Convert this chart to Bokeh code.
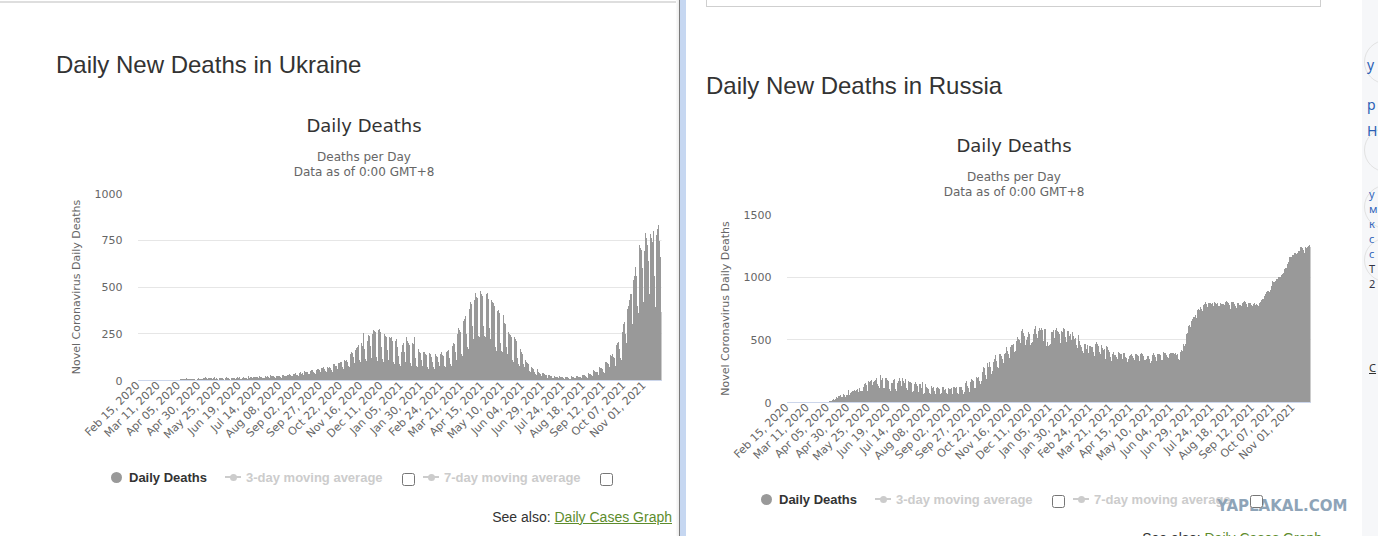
import numpy as np
import pandas as pd
from bokeh.plotting import figure
from bokeh.models import Range1d, FixedTicker, Div, ColumnDataSource
from bokeh.layouts import row, column
from bokeh.embed import file_html
from bokeh.resources import INLINE

# ---------------- data ----------------
START_DATE = "2020-02-15"

TICK_LABELS = ["Feb 15, 2020", "Mar 11, 2020", "Apr 05, 2020", "Apr 30, 2020", "May 25, 2020",
               "Jun 19, 2020", "Jul 14, 2020", "Aug 08, 2020", "Sep 02, 2020", "Sep 27, 2020",
               "Oct 22, 2020", "Nov 16, 2020", "Dec 11, 2020", "Jan 05, 2021", "Jan 30, 2021",
               "Feb 24, 2021", "Mar 21, 2021", "Apr 15, 2021", "May 10, 2021", "Jun 04, 2021",
               "Jun 29, 2021", "Jul 24, 2021", "Aug 18, 2021", "Sep 12, 2021", "Oct 07, 2021",
               "Nov 01, 2021"]

UKRAINE_YTICKS = [0, 250, 500, 750, 1000]
RUSSIA_YTICKS = [0, 500, 1000, 1500]

# daily deaths, one row per week (Sat..Fri), starting Sat Feb 15 2020
UKRAINE_DEATHS = [
    0, 0, 0, 0, 0, 0, 0,
    0, 0, 0, 0, 0, 0, 0,
    0, 0, 0, 0, 0, 0, 0,
    0, 0, 0, 0, 0, 0, 1,
    0, 1, 0, 1, 0, 0, 0,
    1, 0, 1, 0, 1, 2, 1,
    5, 0, 3, 4, 2, 3, 4,
    5, 3, 4, 7, 6, 7, 6,
    8, 9, 6, 8, 12, 9, 8,
    6, 9, 7, 10, 9, 5, 8,
    10, 5, 5, 9, 10, 13, 9,
    9, 14, 10, 10, 12, 14, 18,
    12, 15, 8, 14, 13, 16, 12,
    11, 6, 13, 16, 17, 10, 11,
    9, 7, 5, 16, 11, 13, 12,
    8, 10, 5, 11, 17, 14, 12,
    12, 7, 4, 18, 14, 13, 15,
    12, 10, 7, 13, 18, 15, 19,
    14, 10, 8, 16, 17, 18, 14,
    13, 12, 9, 20, 22, 16, 18,
    21, 15, 10, 17, 21, 18, 20,
    16, 18, 11, 24, 19, 21, 17,
    15, 16, 12, 22, 25, 20, 24,
    18, 16, 11, 28, 25, 23, 22,
    19, 20, 14, 26, 24, 22, 25,
    22, 18, 15, 30, 27, 28, 26,
    25, 22, 19, 32, 30, 35, 28,
    29, 24, 22, 37, 34, 31, 38,
    31, 28, 26, 42, 40, 45, 36,
    38, 30, 29, 49, 48, 44, 46,
    45, 36, 33, 52, 55, 50, 57,
    48, 38, 35, 60, 56, 62, 59,
    55, 45, 40, 68, 65, 71, 64,
    62, 50, 45, 73, 69, 77, 70,
    66, 54, 48, 86, 82, 88, 79,
    75, 60, 55, 95, 92, 100, 98,
    85, 70, 62, 108, 104, 118, 112,
    100, 78, 72, 135, 140, 152, 148,
    128, 95, 90, 165, 175, 180, 190,
    150, 110, 100, 198, 185, 195, 255,
    170, 115, 105, 210, 230, 245, 238,
    185, 120, 110, 250, 270, 265, 260,
    195, 125, 105, 270, 275, 255, 258,
    180, 115, 100, 248, 262, 240, 230,
    165, 110, 95, 235, 225, 230, 210,
    150, 100, 90, 210, 220, 200, 180,
    130, 90, 80, 150, 170, 190, 200,
    150, 100, 90, 230, 210, 200, 190,
    140, 95, 80, 200, 195, 180, 235,
    120, 80, 70, 170, 160, 150, 145,
    110, 75, 65, 155, 150, 140, 135,
    100, 70, 60, 145, 140, 130, 125,
    100, 70, 60, 140, 135, 130, 128,
    100, 75, 62, 140, 150, 135, 130,
    110, 80, 70, 155, 160, 165, 150,
    120, 90, 80, 185, 190, 200, 195,
    150, 110, 95, 250, 280, 270, 260,
    190, 140, 130, 320, 330, 345, 335,
    250, 180, 170, 380, 400, 420, 410,
    290, 220, 210, 430, 470, 445, 440,
    300, 240, 230, 480, 460, 450, 455,
    290, 240, 230, 460, 440, 470, 435,
    280, 220, 200, 430, 420, 415, 400,
    230, 180, 160, 370, 375, 360, 350,
    200, 160, 150, 350, 330, 310, 300,
    180, 140, 130, 260, 250, 245, 230,
    150, 110, 100, 230, 220, 210, 190,
    120, 90, 80, 170, 160, 150, 140,
    90, 70, 60, 110, 100, 95, 90,
    65, 50, 45, 70, 68, 60, 55,
    45, 35, 30, 60, 50, 45, 40,
    35, 25, 20, 40, 38, 35, 30,
    28, 20, 15, 30, 28, 25, 22,
    22, 15, 12, 25, 22, 20, 18,
    18, 12, 10, 22, 20, 18, 17,
    16, 11, 9, 20, 19, 17, 15,
    15, 10, 9, 22, 18, 20, 17,
    16, 11, 10, 24, 22, 21, 19,
    20, 14, 12, 32, 28, 27, 25,
    25, 18, 15, 40, 38, 35, 33,
    30, 22, 18, 57, 50, 48, 45,
    45, 33, 30, 71, 68, 65, 62,
    60, 45, 40, 98, 95, 100, 92,
    90, 70, 60, 134, 130, 140, 128,
    120, 90, 80, 190, 200, 205, 214,
    170, 120, 110, 260, 280, 300, 312,
    250, 200, 180, 380, 400, 430, 460,
    463, 320, 300, 535, 560, 606, 590,
    560, 400, 360, 722, 730, 710, 700,
    600, 420, 339, 695, 790, 760, 722,
    640, 480, 463, 784, 760, 740, 829,
    802, 560, 392, 780, 838, 810, 834,
    748, 659, 365,
]

RUSSIA_DEATHS = [
    0, 0, 0, 0, 0, 0, 0,
    0, 0, 0, 0, 0, 0, 0,
    0, 0, 0, 0, 0, 0, 0,
    0, 0, 0, 0, 0, 0, 0,
    0, 0, 0, 0, 0, 1, 0,
    0, 0, 0, 1, 0, 1, 2,
    0, 1, 0, 1, 2, 5, 4,
    4, 4, 2, 11, 13, 10, 13,
    18, 12, 24, 22, 28, 41, 36,
    42, 48, 51, 57, 45, 36, 42,
    66, 58, 47, 57, 63, 56, 98,
    57, 58, 76, 86, 95, 88, 98,
    88, 94, 96, 107, 81, 96, 119,
    93, 94, 91, 135, 127, 150, 153,
    139, 153, 92, 174, 161, 174, 181,
    232, 138, 162, 171, 178, 169, 197,
    144, 134, 112, 171, 216, 181, 194,
    114, 119, 111, 193, 194, 182, 173,
    161, 109, 95, 153, 154, 147, 176,
    188, 104, 93, 216, 154, 168, 198,
    168, 135, 104, 198, 173, 154, 186,
    188, 112, 96, 175, 167, 166, 165,
    153, 85, 95, 169, 147, 161, 146,
    129, 85, 94, 150, 147, 114, 161,
    95, 70, 77, 144, 124, 129, 119,
    107, 77, 70, 130, 129, 114, 121,
    94, 68, 60, 115, 121, 119, 111,
    98, 68, 76, 121, 120, 114, 100,
    110, 77, 67, 117, 119, 110, 106,
    115, 65, 69, 122, 124, 119, 126,
    110, 74, 64, 124, 125, 122, 122,
    102, 71, 87, 140, 156, 169, 135,
    116, 83, 117, 160, 186, 177, 169,
    176, 117, 115, 201, 197, 186, 202,
    174, 151, 171, 244, 232, 286, 279,
    222, 184, 229, 317, 286, 320, 283,
    280, 229, 254, 320, 346, 355, 378,
    334, 281, 276, 368, 389, 387, 374,
    349, 313, 286, 387, 394, 439, 411,
    395, 387, 353, 442, 456, 463, 461,
    463, 401, 411, 491, 507, 524, 510,
    496, 473, 452, 569, 589, 554, 527,
    510, 456, 496, 526, 559, 559, 547,
    456, 478, 481, 550, 562, 585, 613,
    547, 517, 521, 571, 591, 580, 593,
    604, 578, 493, 589, 588, 599, 452,
    481, 453, 456, 469, 506, 561, 566,
    577, 513, 478, 577, 592, 571, 566,
    580, 544, 475, 567, 566, 577, 597,
    585, 521, 484, 573, 551, 574, 533,
    547, 496, 465, 561, 527, 505, 518,
    482, 459, 432, 536, 494, 485, 460,
    445, 409, 392, 466, 473, 466, 430,
    456, 396, 391, 454, 451, 441, 439,
    424, 403, 375, 464, 480, 467, 441,
    447, 406, 383, 455, 446, 432, 419,
    427, 351, 374, 448, 440, 416, 399,
    408, 361, 335, 386, 399, 381, 380,
    380, 360, 350, 400, 388, 394, 386,
    384, 345, 331, 394, 398, 361, 358,
    382, 327, 348, 372, 380, 386, 373,
    375, 353, 336, 389, 384, 384, 378,
    371, 333, 324, 388, 394, 384, 370,
    368, 339, 338, 351, 371, 369, 358,
    349, 317, 333, 378, 386, 398, 378,
    362, 334, 354, 388, 389, 385, 380,
    372, 343, 339, 405, 396, 391, 385,
    382, 366, 355, 384, 385, 392, 397,
    397, 393, 326, 386, 396, 379, 383,
    392, 345, 341, 400, 420, 408, 439,
    466, 453, 469, 545, 538, 551, 608,
    619, 599, 611, 652, 669, 679, 681,
    697, 654, 672, 737, 749, 738, 752,
    758, 749, 728, 780, 791, 786, 799,
    784, 764, 780, 792, 795, 790, 785,
    790, 779, 769, 799, 796, 789, 788,
    792, 766, 771, 795, 791, 789, 784,
    783, 779, 746, 800, 808, 801, 793,
    781, 770, 748, 799, 805, 800, 797,
    784, 772, 752, 791, 798, 792, 780,
    781, 769, 772, 793, 804, 811, 798,
    782, 773, 761, 792, 796, 790, 784,
    777, 772, 782, 792, 790, 781, 782,
    779, 770, 776, 795, 799, 820, 828,
    822, 839, 852, 867, 883, 887, 890,
    887, 882, 895, 929, 936, 968, 958,
    962, 968, 973, 984, 986, 999, 1002,
    1002, 1015, 1015, 1028, 1036, 1064, 1075,
    1072, 1075, 1106, 1123, 1143, 1159, 1163,
    1158, 1178, 1162, 1179, 1189, 1195, 1188,
    1192, 1190, 1211, 1211, 1239, 1237, 1235,
    1229, 1219, 1195, 1240, 1247, 1236, 1241,
    1252, 1254, 1241,
]

# ---------------- chart builder ----------------
def make_chart(values, ymax, yticks, left_border, right_border, frame_h, bottom_border):
    n = len(values)
    dates = pd.date_range(START_DATE, periods=n, freq="D")
    labels = list(dates.strftime("%b %d, %Y"))
    ticks = [i for i, lab in enumerate(labels) if lab in TICK_LABELS]
    src = ColumnDataSource(dict(x=list(range(n)), top=values, date=labels))
    p = figure(frame_width=524, frame_height=frame_h,
               min_border_left=left_border, min_border_right=right_border,
               min_border_top=8, min_border_bottom=bottom_border,
               x_range=Range1d(-0.5, n - 0.5), y_range=Range1d(0, ymax),
               output_backend="svg", toolbar_location=None, tools="",
               background_fill_color="white", border_fill_color="white",
               styles={"shape-rendering": "crispEdges"})
    p.outline_line_color = None
    p.vbar(x="x", top="top", width=1.02, source=src,
           fill_color="#999999", line_color=None)

    p.xgrid.visible = False
    p.ygrid.grid_line_color = "#e6e6e6"
    p.ygrid.grid_line_width = 1

    xa = p.xaxis[0]
    xa.ticker = FixedTicker(ticks=ticks)
    xa.major_label_overrides = {t: labels[t] for t in ticks}
    xa.major_label_orientation = np.pi / 4
    xa.major_tick_out = 0
    xa.major_tick_in = 0
    xa.minor_tick_out = 0
    xa.minor_tick_in = 0
    xa.axis_line_color = "#ccd6eb"
    xa.major_label_text_font = "DejaVu Sans"
    xa.major_label_text_font_size = "11px"
    xa.major_label_text_color = "#666666"
    xa.major_label_standoff = 3

    ya = p.yaxis[0]
    ya.ticker = FixedTicker(ticks=yticks)
    ya.major_tick_out = 0
    ya.major_tick_in = 0
    ya.minor_tick_out = 0
    ya.minor_tick_in = 0
    ya.axis_line_color = None
    ya.major_label_text_font = "DejaVu Sans"
    ya.major_label_text_font_size = "11px"
    ya.major_label_text_color = "#666666"
    ya.major_label_standoff = 15
    ya.axis_label = "Novel Coronavirus Daily Deaths"
    ya.axis_label_text_font = "DejaVu Sans"
    ya.axis_label_text_font_size = "11px"
    ya.axis_label_text_font_style = "normal"
    ya.axis_label_text_color = "#666666"
    ya.axis_label_standoff = 9
    return p


def top_html(w, h, heading, head_left, head_top, title_center, title_top, sub_top, extra=""):
    return f'''<div style="position:relative;width:{w}px;height:{h}px;overflow:hidden;">
{extra}
<div style="position:absolute;left:{head_left}px;top:{head_top}px;font-family:'Liberation Sans',Arial,sans-serif;font-size:24px;line-height:24px;color:#333333;white-space:nowrap;">{heading}</div>
<div style="position:absolute;left:{title_center-200}px;width:400px;top:{title_top}px;text-align:center;font-family:'DejaVu Sans',sans-serif;font-size:18px;line-height:18px;color:#333333;white-space:nowrap;">Daily Deaths</div>
<div style="position:absolute;left:{title_center-200}px;width:400px;top:{sub_top}px;text-align:center;font-family:'DejaVu Sans',sans-serif;font-size:12px;line-height:14.6px;color:#666666;white-space:nowrap;">Deaths per Day<br>Data as of 0:00 GMT+8</div>
</div>'''


def legend_html(w, h, dx, dy, see_right, see_top, extra=""):
    txt = "position:absolute;font-family:'Liberation Sans',Arial,sans-serif;font-size:13px;line-height:15px;font-weight:bold;white-space:nowrap;"
    cb = "position:absolute;margin:0;width:13px;height:13px;"
    def sym(x):
        return (f'<div style="position:absolute;left:{x+dx}px;top:{21+dy}px;width:16px;height:2px;background:#cccccc;"></div>'
                f'<div style="position:absolute;left:{x+5+dx}px;top:{18.5+dy}px;width:7px;height:7px;border-radius:50%;background:#cccccc;"></div>')
    return f'''<div style="position:relative;width:{w}px;height:{h}px;overflow:hidden;">
<div style="position:absolute;left:{110.5+dx}px;top:{16.5+dy}px;width:11px;height:11px;border-radius:50%;background:#999999;"></div>
<div style="{txt}left:{129+dx}px;top:{15+dy}px;color:#333333;">Daily Deaths</div>
{sym(225)}
<div style="{txt}left:{246+dx}px;top:{15+dy}px;color:#cccccc;">3-day moving average</div>
<input type="checkbox" style="{cb}left:{402+dx}px;top:{18+dy}px;">
{sym(423)}
<div style="{txt}left:{444+dx}px;top:{15+dy}px;color:#cccccc;">7-day moving average</div>
{extra}
<input type="checkbox" style="{cb}left:{600+dx}px;top:{18+dy}px;">
<div style="position:absolute;right:{see_right}px;top:{see_top}px;font-family:'Liberation Sans',Arial,sans-serif;font-size:14px;line-height:16px;color:#333333;white-space:nowrap;">See also: <span style="color:#5d8c2c;text-decoration:underline;">Daily Cases Graph</span></div>
</div>'''


# ---------------- left pane (Ukraine) ----------------
LW = 676
left_top = Div(text=top_html(LW, 185, "Daily New Deaths in Ukraine", 56, 53, 364, 117, 150,
                             extra='<div style="position:absolute;left:0;top:1px;width:676px;height:2px;background:#dedede;"></div>'),
               width=LW, height=185, margin=0)
p_ua = make_chart(UKRAINE_DEATHS, 1000, UKRAINE_YTICKS, 137, 15, 187, 75)
left_leg = Div(text=legend_html(LW, 81, 0, 0, 4, 54), width=LW, height=81, margin=0)
left_col = column(left_top, p_ua, left_leg, spacing=0, margin=0)

# ---------------- divider ----------------
divider = Div(text='<div style="width:10px;height:536px;background:linear-gradient(to right,#fbfbfb 0px,#ececec 3px,#7b7b7b 3px,#7b7b7b 4px,#c6d7f1 4px,#c6d7f1 10px);"></div>',
              width=10, height=536, margin=0)

# ---------------- right pane (Russia) ----------------
RW = 676
right_top = Div(text=top_html(RW, 206, "Daily New Deaths in Russia", 20, 74, 328, 137, 170,
                              extra='<div style="position:absolute;left:20px;top:-10px;width:615px;height:17px;box-sizing:border-box;border:1px solid #cfcfcf;"></div>'),
                width=RW, height=206, margin=0)
p_ru = make_chart(RUSSIA_DEATHS, 1500, RUSSIA_YTICKS, 100, 52, 188, 73)
watermark = ('<div style="position:absolute;left:531px;top:24px;font-family:\'DejaVu Sans\',sans-serif;font-weight:bold;'
             'font-size:15px;line-height:15px;color:#8ea4b8;white-space:nowrap;">YAPLAKAL.COM</div>')
right_leg = Div(text=legend_html(RW, 61, -36, 2, 40, 55, extra=watermark), width=RW, height=61, margin=0)
right_col = column(right_top, p_ru, right_leg, spacing=0, margin=0)

# ---------------- right edge strip ----------------
big = "position:absolute;left:5px;font-family:'Noto Sans',sans-serif;font-size:14px;line-height:14px;color:#2b5fb5;"
small = "position:absolute;left:7px;font-family:'Noto Sans',sans-serif;font-size:11px;line-height:11px;color:#3366bb;"
circ = "position:absolute;left:2px;width:44px;height:44px;border-radius:50%;border:1px solid #e2e2e2;"
strip_html = f'''<div style="position:relative;width:16px;height:536px;overflow:hidden;background:#f6f7f9;">
<div style="{circ}top:40px;"></div><div style="{circ}top:128px;"></div>
<div style="{circ}top:185px;"></div><div style="{circ}top:238px;"></div>
<div style="{big}top:58px;">у</div><div style="{big}top:98px;">р</div><div style="{big}top:124px;">Н</div>
<div style="{small}top:188px;">у</div><div style="{small}top:203px;">м</div><div style="{small}top:218px;">к</div>
<div style="{small}top:233px;">с</div><div style="{small}top:248px;">с</div>
<div style="{small}top:263px;color:#334;">Т</div><div style="{small}top:278px;color:#334;">2</div>
<div style="{small}top:362px;color:#333;text-decoration:underline;">С</div>
</div>'''
strip = Div(text=strip_html, width=16, height=536, margin=0)

layout = row(left_col, divider, right_col, strip, spacing=0, margin=0)

open("out.html", "w").write(file_html(layout, INLINE, title="Daily New Deaths"))
